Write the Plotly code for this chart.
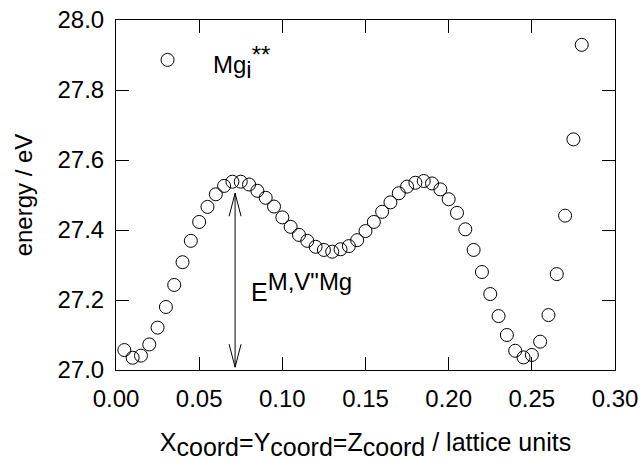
import plotly.graph_objects as go

# Coordinate along the <111> path (lattice units) and total energy (eV)
coord = [0.005, 0.010, 0.015, 0.020, 0.025, 0.030, 0.035, 0.040, 0.045, 0.050,
         0.055, 0.060, 0.065, 0.070, 0.075, 0.080, 0.085, 0.090, 0.095, 0.100,
         0.105, 0.110, 0.115, 0.120, 0.125, 0.130, 0.135, 0.140, 0.145, 0.150,
         0.155, 0.160, 0.165, 0.170, 0.175, 0.180, 0.185, 0.190, 0.195, 0.200,
         0.205, 0.210, 0.215, 0.220, 0.225, 0.230, 0.235, 0.240, 0.245, 0.250,
         0.255, 0.260, 0.265, 0.270, 0.275, 0.280]
energy = [27.057, 27.035, 27.041, 27.073, 27.121, 27.180, 27.243, 27.308, 27.369, 27.423,
          27.466, 27.502, 27.526, 27.538, 27.538, 27.530, 27.512, 27.492, 27.467, 27.436,
          27.409, 27.386, 27.369, 27.352, 27.343, 27.338, 27.345, 27.354, 27.371, 27.397,
          27.423, 27.452, 27.479, 27.505, 27.524, 27.535, 27.540, 27.533, 27.516, 27.488,
          27.449, 27.402, 27.343, 27.280, 27.217, 27.154, 27.100, 27.055, 27.036, 27.043,
          27.081, 27.157, 27.274, 27.441, 27.659, 27.929]

# Key symbol position
key_x = [0.031]
key_y = [27.886]

# Migration barrier arrow
barrier_x = 0.0716
barrier_lo = 27.008
barrier_hi = 27.505

x_ticks = [0.00, 0.05, 0.10, 0.15, 0.20, 0.25, 0.30]
y_ticks = [27.0, 27.2, 27.4, 27.6, 27.8, 28.0]

FONT = "Liberation Sans, Arial, sans-serif"
W, H = 641, 461
ML, MR, MT, MB = 116, 26, 20, 91
XR = [0.0, 0.30]
YR = [27.0, 28.0]


def full(tag, s, size):
    """Sub/superscript kept at (nearly) full text size."""
    return f"<{tag}><span style='font-size:{size}px'>{s}</span></{tag}>"


key_label = "Mg" + full("sub", "i", 24) + full("sup", "**", 24)
barrier_label = "E" + full("sup", 'M,V"Mg', 24)
x_title = ("X" + full("sub", "coord", 25) + "=Y" + full("sub", "coord", 25)
           + "=Z" + full("sub", "coord", 25) + " / lattice units")

marker = dict(symbol="circle-open", size=13, color="black", line=dict(width=1, color="black"))

fig = go.Figure()
fig.add_trace(go.Scatter(x=coord, y=energy, mode="markers", marker=marker, showlegend=False))
fig.add_trace(go.Scatter(x=key_x, y=key_y, mode="markers", marker=marker, showlegend=False))

# data units per pixel, used to size the open arrowheads
dx = (XR[1] - XR[0]) / (W - ML - MR)
dy = (YR[1] - YR[0]) / (H - MT - MB)
head_len = 23 * dy
head_w = 6 * dx

line_style = dict(color="black", width=1)
fig.add_shape(type="line", x0=barrier_x, x1=barrier_x, y0=barrier_lo, y1=barrier_hi,
              xref="x", yref="y", line=line_style)
top = (f"M {barrier_x - head_w} {barrier_hi - head_len} L {barrier_x} {barrier_hi} "
       f"L {barrier_x + head_w} {barrier_hi - head_len}")
bot = (f"M {barrier_x - head_w} {barrier_lo + head_len} L {barrier_x} {barrier_lo} "
       f"L {barrier_x + head_w} {barrier_lo + head_len}")
fig.add_shape(type="path", path=top, xref="x", yref="y", line=line_style)
fig.add_shape(type="path", path=bot, xref="x", yref="y", line=line_style)

fig.add_annotation(x=0.057, y=27.881, xref="x", yref="y", text=key_label, showarrow=False,
                   xanchor="left", yanchor="middle", font=dict(family=FONT, size=24, color="black"))
fig.add_annotation(x=0.080, y=27.238, xref="x", yref="y", text=barrier_label, showarrow=False,
                   xanchor="left", yanchor="middle", font=dict(family=FONT, size=25, color="black"))

axis_common = dict(
    showgrid=False, zeroline=False, showline=True, linecolor="black", linewidth=1,
    mirror="ticks", ticks="inside", ticklen=13, tickwidth=1, tickcolor="black",
    tickfont=dict(family=FONT, size=24, color="black"),
)
fig.update_xaxes(range=XR, tickvals=x_ticks, ticktext=[f"{v:.2f}" for v in x_ticks],
                 ticklabelstandoff=7,
                 title=dict(text=x_title, font=dict(family=FONT, size=25, color="black"),
                            standoff=24),
                 **axis_common)
fig.update_yaxes(range=YR, tickvals=y_ticks, ticktext=[f"{v:.1f}" for v in y_ticks],
                 ticklabelstandoff=6,
                 title=dict(text="energy / eV", font=dict(family=FONT, size=24, color="black"),
                            standoff=18),
                 **axis_common)

fig.update_layout(width=W, height=H, margin=dict(l=ML, r=MR, t=MT, b=MB, autoexpand=False),
                  paper_bgcolor="white", plot_bgcolor="white",
                  font=dict(family=FONT, color="black"))

fig.write_html("out.html")
